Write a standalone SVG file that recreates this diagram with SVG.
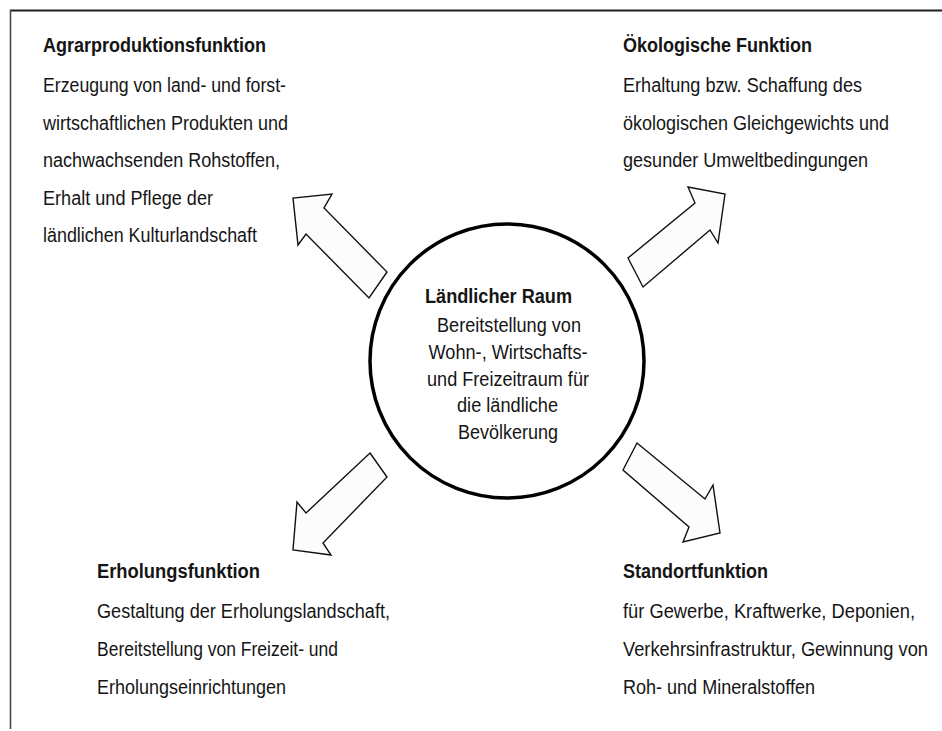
<svg xmlns="http://www.w3.org/2000/svg" width="942" height="731" viewBox="0 0 942 731">
  <style>
    text { font-family: "Liberation Sans", Arial, sans-serif; font-size: 20px; fill: #151515; }
    .title { font-weight: bold; }
    .mid { text-anchor: middle; }
    .frame { fill: none; stroke-linecap: butt; }
    .hub { fill: #ffffff; stroke: #000000; stroke-width: 3.5; }
    .flow { fill: #fcfcfc; stroke: #111111; stroke-width: 1.4; stroke-linejoin: miter; }
  </style>

  <rect x="0" y="0" width="942" height="731" fill="#ffffff"/>

  <!-- page frame: top rule and left rule -->
  <line class="frame" x1="10" y1="10.5" x2="942" y2="10.5" stroke="#1e1e1e" stroke-width="2"/>
  <line class="frame" x1="10.5" y1="10" x2="10.5" y2="729" stroke="#4a4a4a" stroke-width="1.6"/>

  <!-- block arrows pointing from the centre to the four functions -->
  <g id="connectors">
    <polygon class="flow" points="387,272 369,298 306,234 298,245 293,198 332,194 324,208"/>
    <polygon class="flow" points="628,258 643,287 710,230 718,243 725,194 688,187 695,203"/>
    <polygon class="flow" points="370,453 387,477 323,543 331,555 293,550 297,502 306,513"/>
    <polygon class="flow" points="637,443 705,499 713,485 720,533 683,542 689,527 623,470"/>
  </g>

  <g id="center">
    <circle class="hub" cx="507" cy="361" r="137"/>
    <text class="title" x="425" y="303" textLength="147" lengthAdjust="spacingAndGlyphs">Ländlicher Raum</text>
    <text class="mid" x="509" y="332" textLength="144" lengthAdjust="spacingAndGlyphs">Bereitstellung von</text>
    <text class="mid" x="508" y="359" textLength="159" lengthAdjust="spacingAndGlyphs">Wohn-, Wirtschafts-</text>
    <text class="mid" x="508" y="386" textLength="162" lengthAdjust="spacingAndGlyphs">und Freizeitraum für</text>
    <text class="mid" x="507.5" y="412" textLength="101" lengthAdjust="spacingAndGlyphs">die ländliche</text>
    <text class="mid" x="508" y="439" textLength="100" lengthAdjust="spacingAndGlyphs">Bevölkerung</text>
  </g>

  <g id="agrar">
    <text class="title" x="43" y="52" textLength="223" lengthAdjust="spacingAndGlyphs">Agrarproduktionsfunktion</text>
    <text x="43" y="92" textLength="243" lengthAdjust="spacingAndGlyphs">Erzeugung von land- und forst-</text>
    <text x="43" y="130" textLength="245" lengthAdjust="spacingAndGlyphs">wirtschaftlichen Produkten und</text>
    <text x="43" y="167" textLength="237" lengthAdjust="spacingAndGlyphs">nachwachsenden Rohstoffen,</text>
    <text x="43" y="205" textLength="170" lengthAdjust="spacingAndGlyphs">Erhalt und Pflege der</text>
    <text x="43" y="242" textLength="214" lengthAdjust="spacingAndGlyphs">ländlichen Kulturlandschaft</text>
  </g>

  <g id="oekologie">
    <text class="title" x="623" y="52" textLength="189" lengthAdjust="spacingAndGlyphs">Ökologische Funktion</text>
    <text x="623" y="92" textLength="239" lengthAdjust="spacingAndGlyphs">Erhaltung bzw. Schaffung des</text>
    <text x="623" y="130" textLength="266" lengthAdjust="spacingAndGlyphs">ökologischen Gleichgewichts und</text>
    <text x="623" y="167" textLength="245" lengthAdjust="spacingAndGlyphs">gesunder Umweltbedingungen</text>
  </g>

  <g id="erholung">
    <text class="title" x="97" y="578" textLength="163" lengthAdjust="spacingAndGlyphs">Erholungsfunktion</text>
    <text x="97" y="618" textLength="293" lengthAdjust="spacingAndGlyphs">Gestaltung der Erholungslandschaft,</text>
    <text x="97" y="656" textLength="241" lengthAdjust="spacingAndGlyphs">Bereitstellung von Freizeit- und</text>
    <text x="97" y="694" textLength="189" lengthAdjust="spacingAndGlyphs">Erholungseinrichtungen</text>
  </g>

  <g id="standort">
    <text class="title" x="623" y="578" textLength="145" lengthAdjust="spacingAndGlyphs">Standortfunktion</text>
    <text x="623" y="618" textLength="292" lengthAdjust="spacingAndGlyphs">für Gewerbe, Kraftwerke, Deponien,</text>
    <text x="623" y="656" textLength="305" lengthAdjust="spacingAndGlyphs">Verkehrsinfrastruktur, Gewinnung von</text>
    <text x="623" y="694" textLength="192" lengthAdjust="spacingAndGlyphs">Roh- und Mineralstoffen</text>
  </g>
</svg>
